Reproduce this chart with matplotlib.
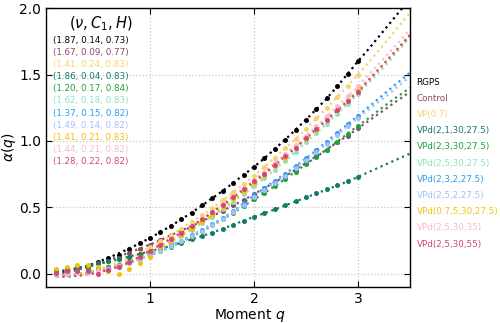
import numpy as np
import matplotlib
matplotlib.use("Agg")
import matplotlib.pyplot as plt

# ---------------- data ----------------
labels = ["RGPS", "Control", "VP(0.7)", "VPd(2,1,30,27.5)", "VPd(2,3,30,27.5)",
          "VPd(2,5,30,27.5)", "VPd(2,3,2,27.5)", "VPd(2,5,2,27.5)",
          "VPd(0.7,5,30,27.5)", "VPd(2,5,30,35)", "VPd(2,5,30,55)"]
params = ["(1.87, 0.14, 0.73)", "(1.67, 0.09, 0.77)", "(1.41, 0.24, 0.83)",
          "(1.86, 0.04, 0.83)", "(1.20, 0.17, 0.84)", "(1.62, 0.18, 0.83)",
          "(1.37, 0.15, 0.82)", "(1.49, 0.14, 0.82)", "(1.41, 0.21, 0.83)",
          "(1.44, 0.21, 0.82)", "(1.28, 0.22, 0.82)"]
colors = ["#000000", "#8c4a66", "#f6d36e", "#147a69", "#1ea23a", "#90e2c2",
          "#2b9cf2", "#a3c0f8", "#f7bf0c", "#f8b9d3", "#d2486f"]

# moments q for fitted (dotted) curves: 0.1 ... 3.5, and for measured points: 0.1 ... 3.0
q_fit = np.round(np.arange(1, 36) * 0.1, 1)
q_pts = q_fit[:30]

black_fit = [0.01,0.02,0.04,0.06,0.09,0.12,0.155,0.19,0.23,0.27, 0.315,0.36,0.41,0.46,0.515,0.57,0.625,0.685,0.745,0.805,
             0.87,0.94,1.01,1.085,1.16,1.24,1.32,1.41,1.505,1.60, 1.69,1.785,1.88,1.975,2.07]
control_fit = [0.0,0.01,0.03,0.05,0.075,0.10,0.13,0.16,0.19,0.22, 0.255,0.29,0.325,0.36,0.395,0.435,0.475,0.515,0.555,0.60,
               0.645,0.69,0.735,0.785,0.835,0.885,0.935,0.99,1.04,1.095, 1.15,1.205,1.26,1.315,1.37]
vp_fit = [-0.01,-0.01,0.0,0.01,0.03,0.06,0.085,0.115,0.155,0.20, 0.245,0.29,0.34,0.39,0.44,0.495,0.555,0.615,0.675,0.74,
          0.805,0.875,0.945,1.015,1.09,1.17,1.25,1.33,1.415,1.50, 1.59,1.68,1.775,1.87,1.965]
teal_fit = [0.02,0.03,0.045,0.06,0.075,0.09,0.11,0.13,0.15,0.17, 0.19,0.21,0.235,0.26,0.285,0.31,0.34,0.37,0.40,0.43,
            0.455,0.485,0.515,0.545,0.575,0.605,0.635,0.665,0.695,0.73, 0.765,0.80,0.835,0.87,0.905]
green_fit = [-0.02,-0.02,-0.01,0.0,0.015,0.035,0.055,0.08,0.11,0.14, 0.17,0.205,0.24,0.28,0.32,0.365,0.41,0.46,0.51,0.56,
             0.61,0.66,0.715,0.77,0.825,0.88,0.935,0.995,1.055,1.115, 1.17,1.23,1.29,1.345,1.40]
mint_fit = [-0.02,-0.02,-0.01,0.0,0.015,0.035,0.06,0.09,0.125,0.16, 0.20,0.24,0.285,0.33,0.38,0.43,0.485,0.54,0.60,0.66,
            0.72,0.785,0.85,0.92,0.99,1.06,1.13,1.205,1.28,1.355, 1.435,1.515,1.60,1.69,1.78]
blue_fit = [-0.01,-0.01,0.0,0.01,0.025,0.04,0.06,0.085,0.115,0.15, 0.18,0.215,0.25,0.29,0.33,0.375,0.42,0.47,0.53,0.59,
            0.645,0.70,0.755,0.81,0.87,0.93,0.995,1.06,1.125,1.19, 1.255,1.32,1.385,1.45,1.515]
lblue_fit = [-0.01,-0.01,0.0,0.01,0.02,0.035,0.055,0.08,0.11,0.14, 0.175,0.21,0.245,0.285,0.325,0.37,0.415,0.465,0.52,0.575,
             0.63,0.685,0.74,0.80,0.86,0.92,0.98,1.045,1.11,1.175, 1.235,1.295,1.355,1.42,1.485]
gold_fit = [-0.01,-0.01,0.0,0.01,0.025,0.045,0.07,0.095,0.125,0.16, 0.20,0.245,0.29,0.34,0.39,0.445,0.50,0.56,0.62,0.68,
            0.745,0.81,0.875,0.945,1.015,1.085,1.155,1.23,1.305,1.38, 1.46,1.54,1.62,1.705,1.79]
lpink_fit = [-0.02,-0.02,-0.015,-0.005,0.01,0.03,0.055,0.085,0.125,0.17, 0.215,0.26,0.31,0.36,0.41,0.465,0.525,0.585,0.645,0.705,
             0.77,0.835,0.90,0.97,1.04,1.11,1.185,1.26,1.335,1.41, 1.495,1.58,1.665,1.75,1.84]
crimson_fit = [-0.02,-0.02,-0.015,-0.005,0.01,0.03,0.055,0.085,0.13,0.175, 0.22,0.265,0.31,0.36,0.41,0.465,0.52,0.575,0.635,0.695,
               0.755,0.82,0.885,0.95,1.02,1.09,1.16,1.23,1.30,1.37, 1.455,1.54,1.625,1.71,1.80]

# measured points at q = 0.1 ... 1.0 (scattered); for q >= 1.1 points lie on the fitted curves
black_low = [0.01,0.02,0.04,0.06,0.09,0.12,0.14,0.19,0.23,0.27]
control_low = [0.02,0.03,0.04,0.05,0.08,0.10,0.12,0.16,0.19,0.22]
vp_low = [0.0,0.0,0.01,0.02,0.035,0.06,0.085,0.115,0.155,0.20]
teal_low = [0.025,0.035,0.05,0.06,0.08,0.095,0.11,0.13,0.15,0.17]
green_low = [0.02,0.03,0.03,0.035,0.045,0.05,0.06,0.08,0.11,0.14]
mint_low = [-0.01,0.0,0.005,0.01,0.02,0.04,0.06,0.09,0.125,0.16]
blue_low = [0.0,0.005,0.01,0.02,0.03,0.045,0.065,0.09,0.12,0.15]
lblue_low = [0.0,0.0,0.01,0.015,0.02,0.03,0.05,0.08,0.11,0.14]
gold_low = [0.04,0.055,0.07,0.065,0.05,0.02,0.0,0.04,0.085,0.13]
lpink_low = [0.0,0.005,0.01,0.01,0.02,0.035,0.06,0.09,0.125,0.17]
crimson_low = [0.01,0.02,0.025,0.02,0.0,0.03,0.055,0.09,0.13,0.17]

fits = [black_fit, control_fit, vp_fit, teal_fit, green_fit, mint_fit,
        blue_fit, lblue_fit, gold_fit, lpink_fit, crimson_fit]
lows = [black_low, control_low, vp_low, teal_low, green_low, mint_low,
        blue_low, lblue_low, gold_low, lpink_low, crimson_low]

# ---------------- figure ----------------
plt.rcParams['font.family'] = ['DejaVu Sans']
fig = plt.figure(figsize=(5.0, 3.23), dpi=100)
ax = fig.add_axes([0.092, 0.111, 0.728, 0.864])

for fit, low, col in zip(fits, lows, colors):
    pts = list(low) + list(fit[10:30])
    ax.plot(q_fit, fit, linestyle=':', color=col, lw=1.6, zorder=2)
    ax.plot(q_pts, pts, linestyle='none', marker='o', ms=3.6, color=col,
            markeredgewidth=0, zorder=3)

ax.set_xlim(0, 3.5)
ax.set_ylim(-0.1, 2.0)
ax.set_xticks([1, 2, 3])
ax.set_yticks([0.0, 0.5, 1.0, 1.5, 2.0])
ax.grid(True, linestyle=':', color='#c8c8c8', lw=0.9)
ax.set_axisbelow(True)
ax.tick_params(direction='in', top=True, right=True, length=4, labelsize=10)
for s in ax.spines.values():
    s.set_linewidth(1.0)

ax.set_xlabel(r'Moment $q$', fontsize=10)
ax.xaxis.set_label_coords(0.56, -0.072)
ax.set_ylabel(r'$\alpha(q)$', fontsize=10)
ax.yaxis.set_label_coords(-0.078, 0.5)

# parameter table
ax.text(0.15, 0.975, r'$(\nu, C_1, H)$', transform=ax.transAxes, ha='center',
        va='top', fontsize=10.5)
for i, (p, col) in enumerate(zip(params, colors)):
    ax.text(0.019, 0.885 - i * 0.0435, p, transform=ax.transAxes, ha='left',
            va='center', fontsize=6.3, color=col)

# legend (text only, coloured)
for i, (lab, col) in enumerate(zip(labels, colors)):
    fig.text(0.833, 1 - (82 + i * 16.2) / 323, lab, ha='left', va='center',
             fontsize=6.3, color=col)

fig.savefig('out.png', dpi=100)
